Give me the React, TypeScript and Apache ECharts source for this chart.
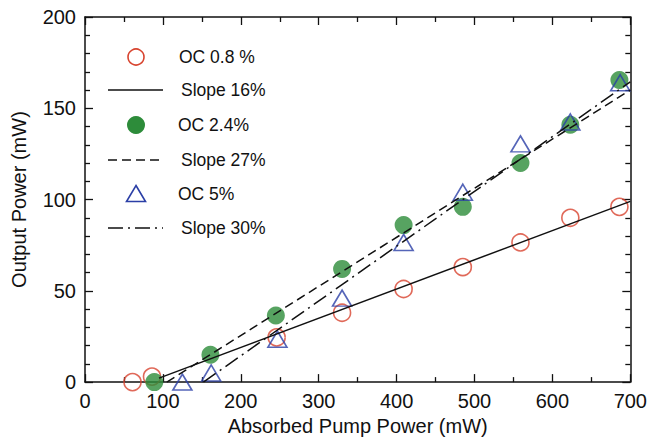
import React, { useEffect, useRef } from "react";
import * as echarts from "echarts";

const oc08X = [61, 86, 246, 330, 409, 485, 559, 623, 686];
const oc08Y = [0, 3, 24.5, 38, 51, 63, 76.5, 90, 96];
const oc24X = [89, 161, 245, 330, 409, 485, 559, 623, 686];
const oc24Y = [0, 15, 36.5, 62, 86, 96, 120, 141, 165.5];
const oc5X = [125, 162, 247, 330, 409, 485, 559, 623, 687];
const oc5Y = [0, 5, 23.5, 46, 76.5, 104, 130.5, 142.5, 164];

const slope16X = [95, 700];
const slope16Y = [2.2, 99];
const slope27X = [105, 700];
const slope27Y = [0, 160];
const slope30X = [152, 700];
const slope30Y = [0, 164.5];

const legendNames = ["OC 0.8 %", "Slope 16%", "OC 2.4%", "Slope 27%", "OC 5%", "Slope 30%"];

const RED = "#d8442f";
const GREEN = "#2d8c3a";
const BLUE = "#2b3fa6";
const FONT = "Liberation Sans, Arial, Helvetica, sans-serif";

const zip = (xs: number[], ys: number[]) => xs.map((x, i) => [x, ys[i]]);

export default function App() {
  const ref = useRef<HTMLDivElement>(null);
  useEffect(() => {
    if (!ref.current) return;
    const chart = echarts.init(ref.current, null, { renderer: "svg" });
    const axisCommon = {
      type: "value" as const,
      axisLine: { show: true, onZero: false, lineStyle: { color: "#111", width: 1.5 } },
      axisTick: { show: true, inside: true, length: 8, lineStyle: { color: "#111", width: 1.3 } },
      minorTick: { show: true, length: 5, lineStyle: { color: "#111", width: 1.3 } },
      splitLine: { show: false },
      minorSplitLine: { show: false },
    };
    const xCommon = { ...axisCommon, min: 0, max: 700, interval: 100, minorTick: { ...axisCommon.minorTick, splitNumber: 2 } };
    const yCommon = { ...axisCommon, min: 0, max: 200, interval: 50, minorTick: { ...axisCommon.minorTick, splitNumber: 5 } };
    const labelStyle = { fontSize: 20, color: "#111", fontFamily: FONT, margin: 9 };
    const nameStyle = { fontSize: 20, color: "#111", fontFamily: FONT };

    const lx = 108, lx2 = 163, sx = 136;
    const rows = [57, 90, 125, 160, 194, 228];
    const textX = [179, 181, 178, 181, 178, 181];
    const graphic: any[] = [
      { type: "circle", shape: { cx: sx, cy: rows[0], r: 8 }, style: { fill: "none", stroke: RED, lineWidth: 1.6 } },
      { type: "line", shape: { x1: lx, y1: rows[1], x2: lx2, y2: rows[1] }, style: { stroke: "#111", lineWidth: 1.5 } },
      { type: "circle", shape: { cx: sx, cy: rows[2], r: 9 }, style: { fill: GREEN } },
      { type: "line", shape: { x1: lx, y1: rows[3], x2: lx2, y2: rows[3] }, style: { stroke: "#111", lineWidth: 1.5, lineDash: [9, 5] } },
      { type: "polygon", shape: { points: [[sx, rows[4] - 8.5], [sx + 9.5, rows[4] + 7.5], [sx - 9.5, rows[4] + 7.5]] }, style: { fill: "none", stroke: BLUE, lineWidth: 1.6 } },
      { type: "line", shape: { x1: lx, y1: rows[5], x2: lx2, y2: rows[5] }, style: { stroke: "#111", lineWidth: 1.5, lineDash: [15, 5, 2, 5] } },
    ];
    legendNames.forEach((n, i) => {
      graphic.push({
        type: "text",
        x: textX[i],
        y: rows[i],
        style: { text: n, fontSize: 17.5, fontFamily: FONT, fill: "#111", verticalAlign: "middle" },
      });
    });

    chart.setOption({
      animation: false,
      backgroundColor: "#fff",
      grid: { left: 85, right: 17, top: 17, bottom: 58 },
      xAxis: [
        {
          ...xCommon,
          position: "bottom",
          axisLabel: labelStyle,
          name: "Absorbed Pump Power (mW)",
          nameLocation: "middle",
          nameGap: 32,
          nameTextStyle: nameStyle,
        },
        { ...xCommon, position: "top", axisLabel: { show: false } },
      ],
      yAxis: [
        {
          ...yCommon,
          position: "left",
          axisLabel: labelStyle,
          name: "Output Power (mW)",
          nameLocation: "middle",
          nameGap: 56,
          nameTextStyle: nameStyle,
        },
        { ...yCommon, position: "right", axisLabel: { show: false } },
      ],
      graphic,
      series: [
        {
          name: legendNames[0],
          type: "scatter",
          data: zip(oc08X, oc08Y),
          symbol: "circle",
          symbolSize: 17,
          itemStyle: { color: "rgba(0,0,0,0)", borderColor: RED, borderWidth: 1.6 },
          z: 2,
        },
        {
          name: legendNames[2],
          type: "scatter",
          data: zip(oc24X, oc24Y),
          symbol: "circle",
          symbolSize: 18,
          itemStyle: { color: GREEN },
          z: 2,
        },
        {
          name: legendNames[4],
          type: "scatter",
          data: zip(oc5X, oc5Y),
          symbol: "triangle",
          symbolSize: [19, 16],
          itemStyle: { color: "rgba(0,0,0,0)", borderColor: BLUE, borderWidth: 1.6 },
          z: 3,
        },
        {
          name: legendNames[1],
          type: "line",
          data: zip(slope16X, slope16Y),
          showSymbol: false,
          symbol: "none",
          lineStyle: { color: "#111", width: 1.5 },
          z: 4,
        },
        {
          name: legendNames[3],
          type: "line",
          data: zip(slope27X, slope27Y),
          showSymbol: false,
          symbol: "none",
          lineStyle: { color: "#111", width: 1.5, type: [9, 5] },
          z: 4,
        },
        {
          name: legendNames[5],
          type: "line",
          data: zip(slope30X, slope30Y),
          showSymbol: false,
          symbol: "none",
          lineStyle: { color: "#111", width: 1.5, type: [15, 5, 2, 5] },
          z: 4,
        },
      ],
    });
    return () => chart.dispose();
  }, []);
  return <div ref={ref} style={{ width: 650, height: 441, position: "absolute", left: 0, top: 0 }} />;
}
